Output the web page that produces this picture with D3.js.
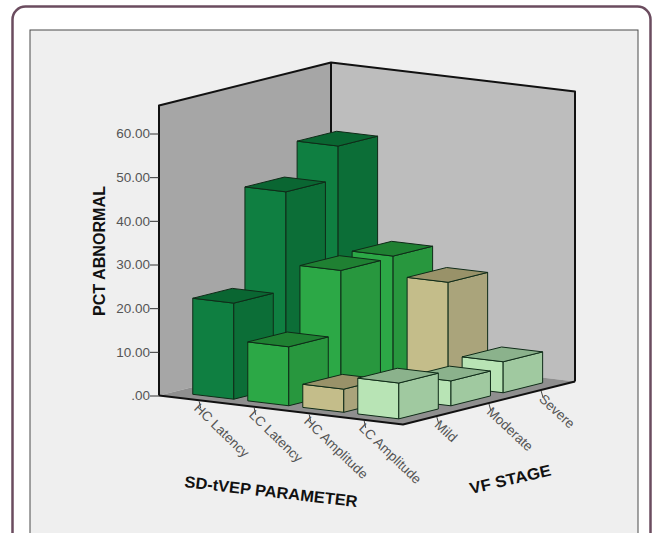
<!DOCTYPE html>
<html><head><meta charset="utf-8">
<style>html,body{margin:0;padding:0;background:#fff;overflow:hidden}text{font-family:"Liberation Sans",Arial,sans-serif}</style>
<script src="https://cdn.jsdelivr.net/npm/d3@7/dist/d3.min.js"></script>
</head><body><svg id="c" width="652" height="533"></svg>
<script>
const parameters = ["HC Latency","LC Latency","HC Amplitude","LC Amplitude"];
const stages = ["Mild","Moderate","Severe"];
const mild = [22,13.5,5.3,8.2];
const moderate = [44.5,28,0,5.7];
const severe = [52,28.3,23.8,7.1];
const yTicks = [0,10,20,30,40,50,60];
const wallTop = 66.4;
const faceColors = {
  "HC Latency":  {front:"#0f7f41",top:"#0a6632",side:"#0c6e37"},
  "LC Latency":  {front:"#2ca846",top:"#1f8032",side:"#28973e"},
  "HC Amplitude":{front:"#c4bd8a",top:"#999269",side:"#aaa47b"},
  "LC Amplitude":{front:"#b8e4b5",top:"#8bb28c",side:"#a0c9a0"}
};
const svg = d3.select("#c");
svg.append("rect").attr("x",12.5).attr("y",6.5).attr("width",638).attr("height",560).attr("rx",13).attr("fill","#fff").attr("stroke","#6b4c5f").attr("stroke-width",2.5);
svg.append("rect").attr("x",30).attr("y",30).attr("width",608).attr("height",540).attr("fill","#efefef").attr("stroke","#4a4a4a").attr("stroke-width",1);

const origin = [159,395.5], floorU = 244, floorV = 172;
const u = d3.scaleBand().domain(parameters).range([0.7,floorU+0.7]).paddingInner(.2545).paddingOuter(.345);
const v = d3.scaleBand().domain(stages).range([0,floorV]).paddingInner(.243).paddingOuter(.27);
const h = d3.scaleLinear().domain([0,60]).range([0,262]);
const yAxisScale = d3.scaleLinear().domain([0,60]).range([origin[1],origin[1]-262]);
const P = (a,b,c=0)=>[origin[0]+a+b, origin[1]+a*.119-b*.25-h(c)];
const poly = pts=>"M"+pts.map(p=>p.join(",")).join("L")+"Z";

// walls and floor
const g = svg.append("g");
g.append("path").attr("d",poly([P(0,0),P(0,floorV),P(0,floorV,wallTop),P(0,0,wallTop)])).attr("fill","#a6a6a6");
g.append("path").attr("d",poly([P(0,floorV),P(floorU,floorV),P(floorU,floorV,wallTop),P(0,floorV,wallTop)])).attr("fill","#bdbdbd");
g.append("path").attr("d",poly([P(0,0),P(floorU,0),P(floorU,floorV),P(0,floorV)])).attr("fill","#8f8f8f");
const line = pts=>g.append("path").attr("d","M"+pts.map(p=>p.join(",")).join("L")).attr("fill","none").attr("stroke","#111").attr("stroke-width",2).attr("stroke-linejoin","round");
line([P(0,0),P(0,0,wallTop),P(0,floorV,wallTop),P(floorU,floorV,wallTop),P(floorU,floorV)]);
line([P(0,floorV),P(0,floorV,wallTop)]);
line([P(0,0),P(floorU,0),P(floorU,floorV)]);

// bars, painted back to front
const seriesByStage = {Mild:mild,Moderate:moderate,Severe:severe};
const bw = u.bandwidth(), bd = v.bandwidth();
[...stages].reverse().forEach(s=>{
  parameters.forEach((p,i)=>{
    const val = seriesByStage[s][i];
    if(!val) return;
    const a=u(p), b=v(s), c=faceColors[p];
    const bar = svg.append("g").attr("stroke","#0f2b18").attr("stroke-width",1).attr("stroke-linejoin","round");
    bar.append("path").attr("d",poly([P(a,b),P(a+bw,b),P(a+bw,b,val),P(a,b,val)])).attr("fill",c.front);
    bar.append("path").attr("d",poly([P(a+bw,b),P(a+bw,b+bd),P(a+bw,b+bd,val),P(a+bw,b,val)])).attr("fill",c.side);
    bar.append("path").attr("d",poly([P(a,b,val),P(a+bw,b,val),P(a+bw,b+bd,val),P(a,b+bd,val)])).attr("fill",c.top);
  });
});

// value axis
const axis = d3.axisLeft(yAxisScale).tickValues(yTicks).tickSize(9).tickPadding(0)
  .tickFormat(d=>d===0?".00":d3.format(".2f")(d));
const ax = svg.append("g").attr("transform",`translate(${origin[0]},0)`).call(axis);
ax.select(".domain").remove();
ax.selectAll("line").attr("stroke","#333");
ax.selectAll("text").attr("font-size",13.5).attr("fill","#555").attr("font-family","Liberation Sans");

// category ticks and labels
const tickG = svg.append("g");
parameters.forEach(p=>{
  const a=u(p)+bw/2, q=P(a,0);
  tickG.append("line").attr("x1",q[0]).attr("y1",q[1]+1).attr("x2",q[0]+1.5).attr("y2",q[1]+8).attr("stroke","#444");
  tickG.append("text").attr("transform",`translate(${q[0]-6},${q[1]+9}) rotate(44)`).attr("font-size",13.5).attr("fill","#555").text(p);
});
stages.forEach(s=>{
  const b=v(s)+bd/2, q=P(floorU,b);
  tickG.append("line").attr("x1",q[0]).attr("y1",q[1]+1).attr("x2",q[0]+2).attr("y2",q[1]+8).attr("stroke","#444");
  tickG.append("text").attr("transform",`translate(${q[0]-3},${q[1]+10}) rotate(43)`).attr("font-size",13.5).attr("fill","#555").text(s);
});

// axis titles
svg.append("text").attr("transform","translate(105,251) rotate(-90)").attr("text-anchor","middle").attr("font-size",16).attr("font-weight","bold").attr("fill","#111").attr("textLength",130).attr("lengthAdjust","spacingAndGlyphs").text("PCT ABNORMAL");
svg.append("text").attr("transform","translate(184,487) rotate(6.6)").attr("font-size",16).attr("font-weight","bold").attr("fill","#111").attr("textLength",174).attr("lengthAdjust","spacingAndGlyphs").text("SD-tVEP PARAMETER");
svg.append("text").attr("transform","translate(471,494) rotate(-13)").attr("font-size",16).attr("font-weight","bold").attr("fill","#111").attr("textLength",83).attr("lengthAdjust","spacingAndGlyphs").text("VF STAGE");
</script></body></html>
